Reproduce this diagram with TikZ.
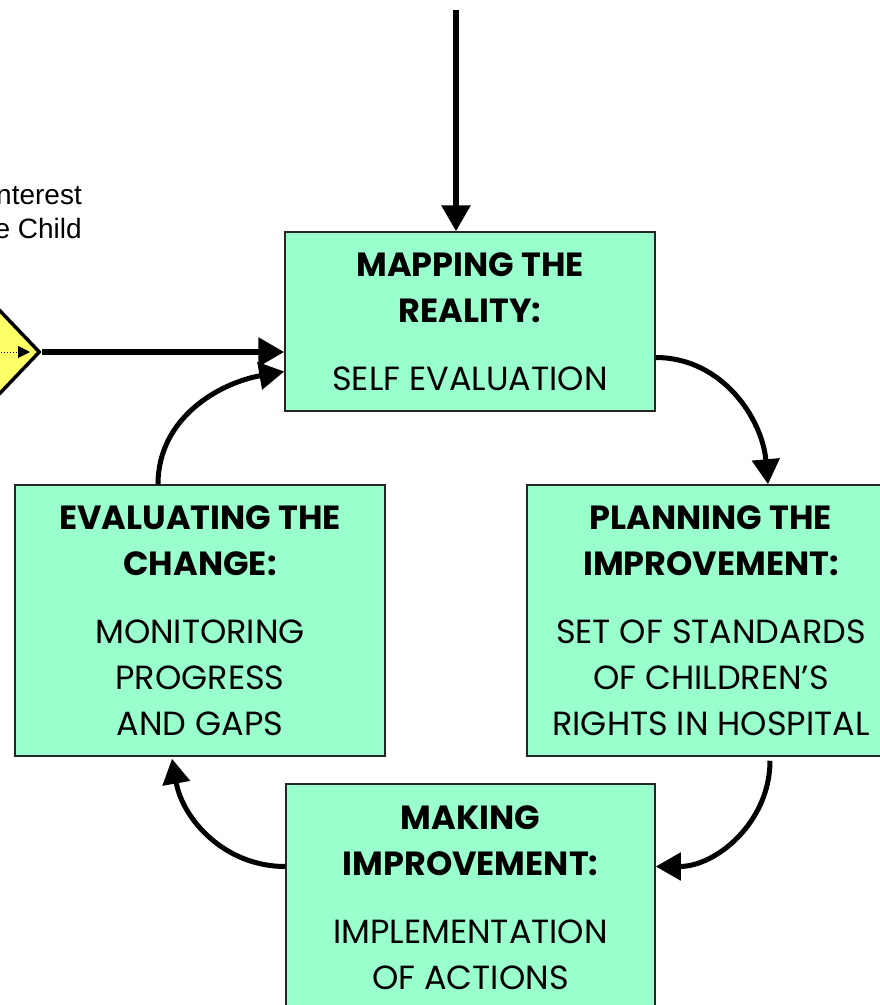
\documentclass[tikz,border=0pt]{standalone}
\usepackage{fontspec}
\setmainfont{Poppins}
\newfontfamily\notefont{Liberation Sans}
\usetikzlibrary{shapes.geometric, arrows.meta}
\definecolor{mint}{HTML}{99FFCC}
\definecolor{lemon}{HTML}{FFFF66}
\tikzstyle{box}=[draw=black!85, line width=1.5pt, fill=mint, align=center, inner sep=0pt, font=\fontsize{33.5}{46}\selectfont]
\tikzstyle{big}=[line width=6pt, -{Triangle[length=26pt,width=28pt]}]
\tikzstyle{cyc}=[line width=5pt, -{Triangle[length=25pt,width=27pt]}]

\begin{document}
\begin{tikzpicture}[x=1pt,y=1pt]
	\useasboundingbox (0,0) rectangle (880,-1005);
	\node [box, minimum width=370pt, minimum height=179pt] (0) at (470, -321.5) {\textbf{MAPPING THE}\\\textbf{REALITY:}\\[22pt]SELF EVALUATION};
	\node [box, minimum width=368pt, minimum height=271pt] (1) at (711, -620.5) {\textbf{PLANNING THE}\\\textbf{IMPROVEMENT:}\\[22pt]SET OF STANDARDS\\OF CHILDREN'S\\RIGHTS IN HOSPITAL};
	\node [box, minimum width=369pt, minimum height=227pt] (2) at (470.5, -897.5) {\textbf{MAKING}\\\textbf{IMPROVEMENT:}\\[22pt]IMPLEMENTATION\\OF ACTIONS};
	\node [box, minimum width=370pt, minimum height=271pt] (3) at (200, -620.5) {\textbf{EVALUATING THE}\\\textbf{CHANGE:}\\[22pt]MONITORING\\PROGRESS\\AND GAPS};
	\node [diamond, draw, line width=3.5pt, fill=lemon, minimum width=84pt, minimum height=88pt, inner sep=0pt] (4) at (-2, -352) {};
	\node [anchor=east, align=right, inner sep=0pt, font=\notefont\fontsize{28}{34}\selectfont] (5) at (82, -213) {nterest\\e Child};
	\coordinate (6) at (30, -352);
	\coordinate (7) at (456, -10);
	\draw [dotted, line width=1pt, -{Triangle[length=12pt,width=12pt]}] (4.center) -- (6);
	\draw [big] (7) -- (7 |- 0.north);
	\draw [big] (4.east) -- (4.east -| 0.west);
	\draw [cyc] ([yshift=-36pt]0.east) to[out=0, in=95] ([xshift=57pt]1.north);
	\draw [cyc] ([xshift=59pt, yshift=-4pt]1.south) to[out=-90, in=0] ([yshift=31pt]2.east);
	\draw [cyc] ([yshift=31pt]2.west) to[out=180, in=-80] ([xshift=-28pt, yshift=-2pt]3.south);
	\draw [cyc] ([xshift=-42pt]3.north) to[out=90, in=190] ([yshift=-50pt]0.west);
\end{tikzpicture}
\end{document}
